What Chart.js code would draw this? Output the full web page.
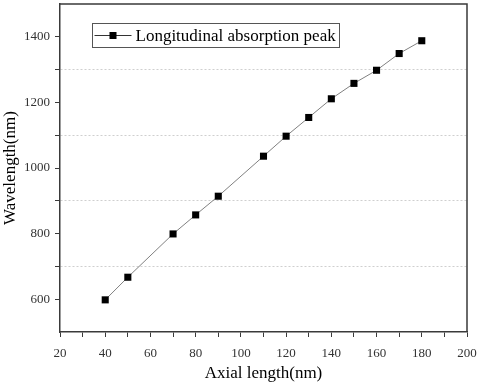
<!DOCTYPE html>
<html>
<head>
<meta charset="utf-8">
<script src="https://cdn.jsdelivr.net/npm/chart.js@4"></script>
<style>
  html, body { margin: 0; padding: 0; background: #fff; }
  #chart { display: block; }
</style>
</head>
<body>
<canvas id="chart" width="480" height="386"></canvas>
<script>
// Data
const axialLength = [40, 50, 70, 80, 90, 110, 120, 130, 140, 150, 160, 170, 180];
const wavelength = [598, 667, 799, 857, 914, 1036, 1097, 1154, 1211, 1258, 1298, 1349, 1388];
const xTickLabels = [20, 40, 60, 80, 100, 120, 140, 160, 180, 200];
const yTickLabels = [600, 800, 1000, 1200, 1400];
const seriesName = 'Longitudinal absorption peak';

const serif = "'Liberation Serif', 'Times New Roman', serif";
const axisColor = '#3a3a3a';
const tickTextColor = '#333';

// Top and right frame lines
const framePlugin = {
    id: 'frame',
    afterDraw(chart) {
        const { ctx, chartArea: a } = chart;
        ctx.save();
        ctx.strokeStyle = axisColor;
        ctx.lineWidth = 1.5;
        ctx.beginPath();
        ctx.moveTo(a.left, a.top);
        ctx.lineTo(a.right, a.top);
        ctx.lineTo(a.right, a.bottom);
        ctx.stroke();
        ctx.restore();
    }
};

// Boxed legend inside the plot
const legendBoxPlugin = {
    id: 'legendBox',
    afterDraw(chart) {
        const ctx = chart.ctx;
        const x = 92.5, y = 23.5, w = 247, h = 24;
        const cy = y + h / 2;
        ctx.save();
        ctx.fillStyle = '#fff';
        ctx.fillRect(x, y, w, h);
        ctx.strokeStyle = '#555';
        ctx.lineWidth = 1;
        ctx.strokeRect(x, y, w, h);
        ctx.strokeStyle = '#333';
        ctx.beginPath();
        ctx.moveTo(x + 2, cy);
        ctx.lineTo(x + 39, cy);
        ctx.stroke();
        ctx.fillStyle = '#000';
        ctx.fillRect(x + 17, cy - 3.5, 7, 7);
        ctx.font = '17px ' + serif;
        ctx.textBaseline = 'middle';
        ctx.fillText(seriesName, x + 43, cy + 1);
        ctx.restore();
    }
};

new Chart(document.getElementById('chart').getContext('2d'), {
    type: 'scatter',
    data: {
        datasets: [{
            label: seriesName,
            data: axialLength.map((v, i) => ({ x: v, y: wavelength[i] })),
            showLine: true,
            borderColor: '#808080',
            borderWidth: 1,
            pointStyle: 'rect',
            pointRadius: 5,
            pointBackgroundColor: '#000',
            pointBorderColor: '#000',
            pointBorderWidth: 0
        }]
    },
    options: {
        responsive: false,
        animation: false,
        layout: { autoPadding: false, padding: { top: 4, right: 13, left: 0, bottom: 0 } },
        plugins: {
            legend: { display: false },
            tooltip: { enabled: false }
        },
        scales: {
            x: {
                type: 'linear',
                min: 20,
                max: 200,
                afterFit: s => { s.height = 54; s.paddingLeft = 0; s.paddingRight = 0; },
                ticks: {
                    stepSize: 10,
                    autoSkip: false,
                    maxRotation: 0,
                    padding: 9,
                    color: tickTextColor,
                    font: { family: serif, size: 13 },
                    callback: v => xTickLabels.includes(v) ? String(v) : ''
                },
                grid: {
                    drawOnChartArea: false,
                    tickLength: 5,
                    tickColor: axisColor,
                    tickWidth: 1
                },
                border: { color: axisColor, width: 1.5 },
                title: {
                    display: true,
                    text: 'Axial length(nm)',
                    color: '#000',
                    font: { family: serif, size: 17 },
                    padding: { top: 0, bottom: 2 }
                }
            },
            y: {
                type: 'linear',
                min: 500,
                max: 1500,
                afterFit: s => { s.width = 60; s.paddingTop = 0; s.paddingBottom = 0; },
                ticks: {
                    stepSize: 100,
                    autoSkip: false,
                    padding: 5,
                    color: tickTextColor,
                    font: { family: serif, size: 13 },
                    callback: v => {
                        if (v === 500 || v === 1500) return null;
                        return yTickLabels.includes(v) ? String(v) : '';
                    }
                },
                grid: {
                    color: c => (c.tick && c.tick.value % 200 === 100) ? '#cfcfcf' : 'rgba(0,0,0,0)',
                    lineWidth: 1,
                    tickLength: 5,
                    tickColor: axisColor,
                    tickWidth: 1,
                    tickBorderDash: []
                },
                border: { color: axisColor, width: 1.5, dash: [2, 2] },
                title: {
                    display: true,
                    text: 'Wavelength(nm)',
                    color: '#000',
                    font: { family: serif, size: 17 },
                    padding: { top: 0, bottom: 0 }
                }
            }
        }
    },
    plugins: [framePlugin, legendBoxPlugin]
});
</script>
</body>
</html>
